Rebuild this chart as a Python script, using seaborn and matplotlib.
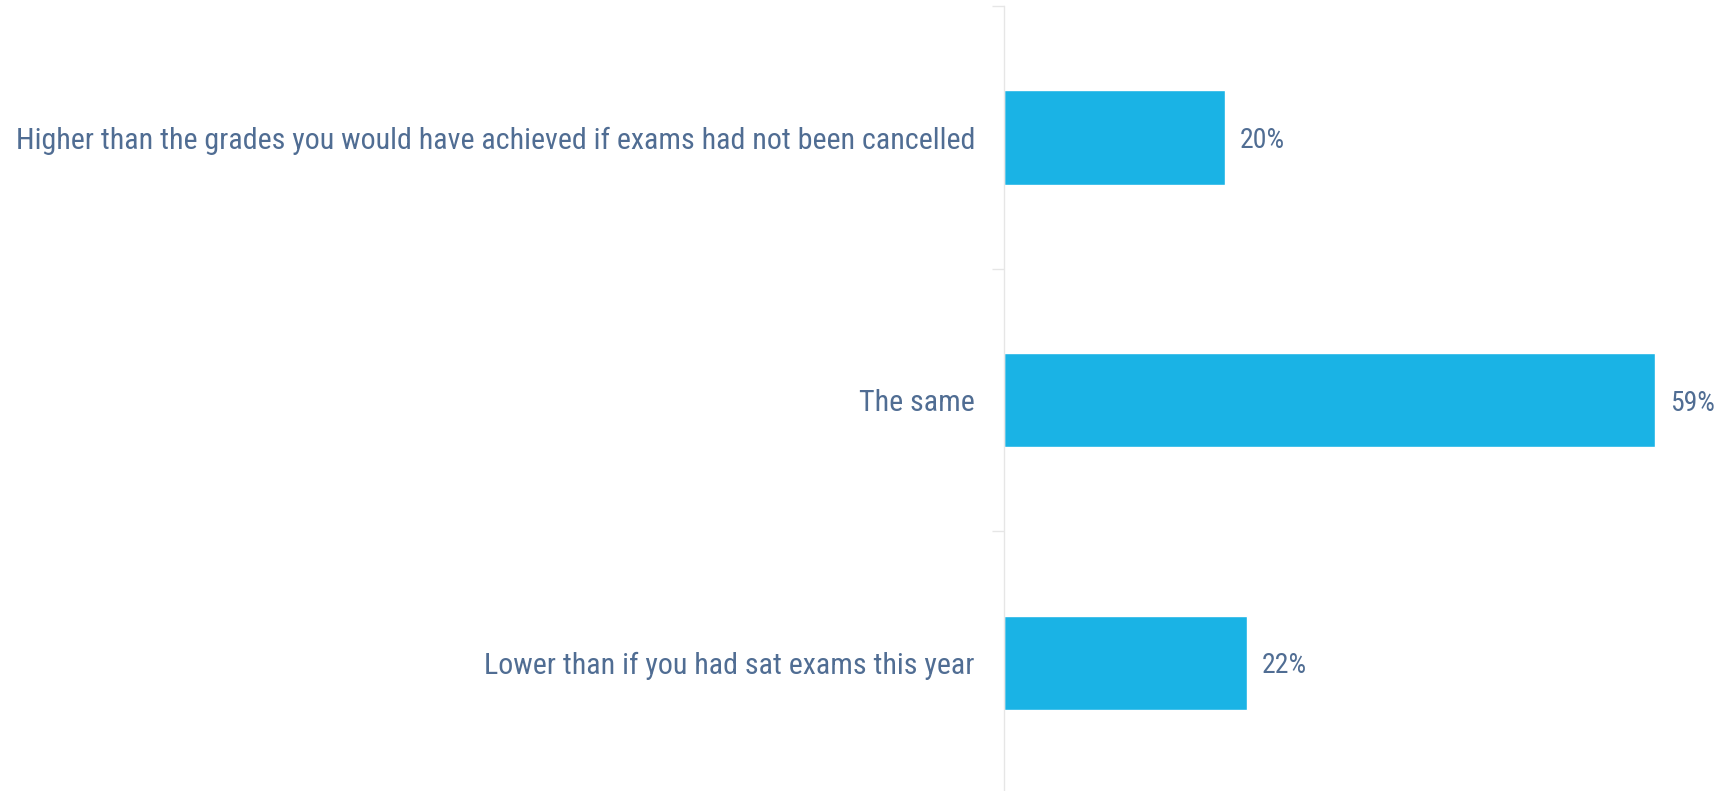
import numpy as np
import pandas as pd
import matplotlib
matplotlib.use("Agg")
import matplotlib.pyplot as plt
import seaborn as sns

# answers and share of respondents (%)
answers = ["Higher than the grades you would have achieved if exams had not been cancelled",
           "The same",
           "Lower than if you had sat exams this year"]
shares = [20, 59, 22]
share_labels = ["20%", "59%", "22%"]

df = pd.DataFrame({"answer": answers, "share": shares})

sns.set_theme(style="white")
plt.rcParams['font.family'] = ['Roboto Condensed', 'DejaVu Sans']

text_col = "#506d93"
bar_col = "#1ab3e5"

fig = plt.figure(figsize=(17.17, 7.91), dpi=100)
ax = fig.add_axes([0.5848, -0.0038, 0.4152, 0.9956])

sns.barplot(data=df, x="share", y="answer", orient="h", color=bar_col,
            width=0.36, saturation=1, ax=ax)

for i, (v, lab) in enumerate(zip(shares, share_labels)):
    ax.text(v + 1.35, i, lab, va="center_baseline", ha="left", fontsize=20, color=text_col)

ax.set_xlim(0, 64.6)
ax.set_ylim(2.5, -0.5)
ax.set_xlabel("")
ax.set_ylabel("")
ax.set_xticks([])

ax.tick_params(axis="y", which="major", left=False, length=0, pad=21, labelsize=21.6, labelcolor=text_col)
ax.set_yticks([-0.5, 0.5, 1.5, 2.5], minor=True)
ax.tick_params(axis="y", which="minor", left=True, length=9, width=1, color="#e6e6e6")

for s in ["top", "right", "bottom"]:
    ax.spines[s].set_visible(False)
ax.spines["left"].set_color("#e6e6e6")
ax.spines["left"].set_linewidth(1)

fig.savefig("out.png", dpi=100)
